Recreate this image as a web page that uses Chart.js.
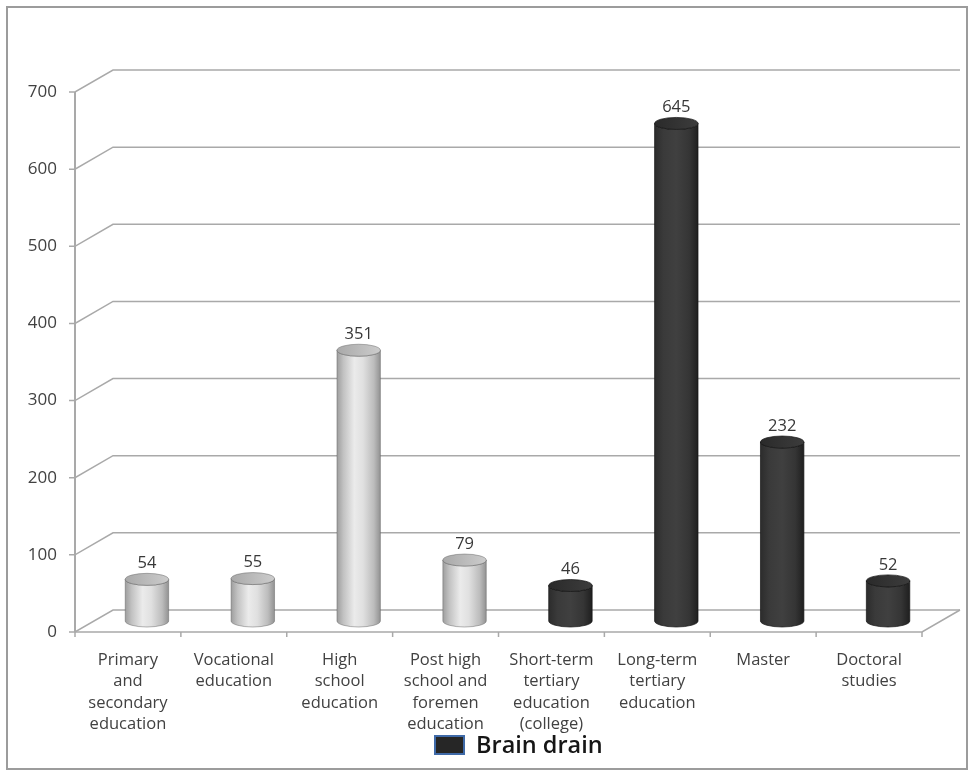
<!DOCTYPE html>
<html>
<head>
<meta charset="utf-8">
<script src="https://cdn.jsdelivr.net/npm/chart.js@4.4.0/dist/chart.umd.min.js"></script>
<style>
    html, body { margin: 0; padding: 0; background: #fff; }
    #contenedor { width: 972px; height: 776px; position: relative; }
</style>
</head>
<body>
<div id="contenedor"><canvas id="grafica"></canvas></div>
<script>
// Datos de la gráfica
const categorias = [
    ['Primary', 'and', 'secondary', 'education'],
    ['Vocational', 'education'],
    ['High', 'school', 'education'],
    ['Post high', 'school and', 'foremen', 'education'],
    ['Short-term', 'tertiary', 'education', '(college)'],
    ['Long-term', 'tertiary', 'education'],
    ['Master'],
    ['Doctoral', 'studies']
];
const valores = [54, 55, 351, 79, 46, 645, 232, 52];
const tonos = ['claro', 'claro', 'claro', 'claro', 'oscuro', 'oscuro', 'oscuro', 'oscuro'];
const ticksY = [0, 100, 200, 300, 400, 500, 600, 700];
const nombreSerie = 'Brain drain';

// Profundidad de la perspectiva 3D (desplazamiento del plano trasero)
const PROF_X = 38;
const PROF_Y = 22;
const FUENTE = '"Open Sans", sans-serif';
const COLOR_TEXTO = '#414141';
const COLOR_REJILLA = '#a9a9a9';

const paletas = {
    claro: {
        cuerpo: [[0, '#9e9e9e'], [0.15, '#c2c2c2'], [0.4, '#ebebeb'], [0.6, '#e0e0e0'], [0.85, '#bcbcbc'], [1, '#929292']],
        tapa: ['#a9a9a9', '#cccccc'],
        borde: 'rgba(90,90,90,0.45)'
    },
    oscuro: {
        cuerpo: [[0, '#2c2c2c'], [0.2, '#3a3a3a'], [0.5, '#404040'], [0.8, '#353535'], [1, '#1f1f1f']],
        tapa: ['#2a2a2a', '#3c3c3c'],
        borde: 'rgba(20,20,20,0.7)'
    }
};

function dibujarCilindro(ctx, cx, yTop, yBase, ancho, ry, paleta) {
    const rx = ancho / 2;
    const x0 = cx - rx, x1 = cx + rx;

    const grad = ctx.createLinearGradient(x0, 0, x1, 0);
    paleta.cuerpo.forEach(([p, c]) => grad.addColorStop(p, c));

    ctx.beginPath();
    ctx.moveTo(x0, yTop);
    ctx.lineTo(x0, yBase);
    ctx.ellipse(cx, yBase, rx, ry, 0, Math.PI, 0, true);
    ctx.lineTo(x1, yTop);
    ctx.ellipse(cx, yTop, rx, ry, 0, 0, Math.PI, false);
    ctx.closePath();
    ctx.fillStyle = grad;
    ctx.fill();
    ctx.strokeStyle = paleta.borde;
    ctx.lineWidth = 1;
    ctx.stroke();

    // tapa superior
    const gradTapa = ctx.createLinearGradient(x0, 0, x1, 0);
    gradTapa.addColorStop(0, paleta.tapa[0]);
    gradTapa.addColorStop(1, paleta.tapa[1]);
    ctx.beginPath();
    ctx.ellipse(cx, yTop, rx, ry, 0, 0, Math.PI * 2);
    ctx.fillStyle = gradTapa;
    ctx.fill();
    ctx.stroke();
}

const grafico3d = {
    id: 'grafico3d',
    beforeDraw(chart) {
        const ctx = chart.ctx;
        ctx.save();
        ctx.fillStyle = '#fff';
        ctx.fillRect(0, 0, chart.width, chart.height);
        // marco exterior
        ctx.strokeStyle = '#9c9c9c';
        ctx.lineWidth = 2;
        ctx.strokeRect(7, 7, 960, 762);
        ctx.restore();
    },
    beforeDatasetsDraw(chart) {
        const ctx = chart.ctx;
        const y = chart.scales.y;
        const izq = chart.chartArea.left;
        const der = chart.chartArea.right;
        const y0 = y.getPixelForValue(0);

        ctx.save();
        ctx.strokeStyle = COLOR_REJILLA;
        ctx.lineWidth = 1.5;

        // líneas de rejilla en la pared trasera con su enlace al eje
        ticksY.forEach(v => {
            const py = y.getPixelForValue(v);
            ctx.beginPath();
            ctx.moveTo(izq - 6, py);
            ctx.lineTo(izq, py);
            ctx.lineTo(izq + PROF_X, py - PROF_Y);
            ctx.lineTo(der + PROF_X, py - PROF_Y);
            ctx.stroke();
        });

        // suelo: borde frontal y lateral derecho
        ctx.beginPath();
        ctx.moveTo(izq, y0);
        ctx.lineTo(der, y0);
        ctx.lineTo(der + PROF_X, y0 - PROF_Y);
        ctx.stroke();

        // marcas de categoría
        const paso = (der - izq) / categorias.length;
        for (let k = 0; k <= categorias.length; k++) {
            const px = izq + paso * k;
            ctx.beginPath();
            ctx.moveTo(px, y0);
            ctx.lineTo(px, y0 + 5);
            ctx.stroke();
        }

        // eje vertical
        ctx.lineWidth = 2;
        ctx.beginPath();
        ctx.moveTo(izq, y.getPixelForValue(ticksY[ticksY.length - 1]));
        ctx.lineTo(izq, y0);
        ctx.stroke();
        ctx.restore();
    },
    afterDatasetsDraw(chart) {
        const ctx = chart.ctx;
        const x = chart.scales.x;
        const y = chart.scales.y;
        const paso = (chart.chartArea.right - chart.chartArea.left) / categorias.length;
        const ancho = paso * 0.41;
        const ry = 6;
        const yBase = y.getPixelForValue(0) - PROF_Y / 2;

        ctx.save();
        valores.forEach((v, i) => {
            const cx = x.getPixelForValue(i) + PROF_X / 2;
            const yTop = y.getPixelForValue(v) - PROF_Y / 2;
            dibujarCilindro(ctx, cx, yTop, yBase, ancho, ry, paletas[tonos[i]]);

            // etiqueta con el valor
            ctx.fillStyle = '#383838';
            ctx.font = '16.5px ' + FUENTE;
            ctx.textAlign = 'center';
            ctx.textBaseline = 'middle';
            ctx.fillText(String(v), cx, yTop - ry - 10);
        });

        // leyenda
        const lx = 435, ly = 736;
        ctx.fillStyle = '#262626';
        ctx.fillRect(lx, ly, 29, 18);
        ctx.strokeStyle = '#3f6aa8';
        ctx.lineWidth = 2;
        ctx.strokeRect(lx, ly, 29, 18);
        ctx.fillStyle = '#161616';
        ctx.font = '600 23.5px ' + FUENTE;
        ctx.textAlign = 'left';
        ctx.textBaseline = 'middle';
        ctx.fillText(nombreSerie, lx + 41, ly + 10);
        ctx.restore();
    }
};

const ctx = document.getElementById('grafica').getContext('2d');
new Chart(ctx, {
    type: 'bar',
    data: {
        labels: categorias,
        datasets: [{
            label: nombreSerie,
            data: valores,
            backgroundColor: 'rgba(0,0,0,0)',
            borderWidth: 0
        }]
    },
    options: {
        responsive: true,
        maintainAspectRatio: false,
        animation: false,
        layout: {
            padding: { top: 92, right: 50, bottom: 30, left: 0 }
        },
        plugins: {
            legend: { display: false },
            tooltip: { enabled: false }
        },
        scales: {
            x: {
                grid: { display: false },
                border: { display: false },
                ticks: {
                    color: COLOR_TEXTO,
                    font: { family: FUENTE, size: 16.5, lineHeight: 1.31 },
                    padding: 9,
                    maxRotation: 0,
                    autoSkip: false
                },
                afterFit(scale) { scale.height = 114; }
            },
            y: {
                min: ticksY[0],
                max: ticksY[ticksY.length - 1],
                grid: { display: false },
                border: { display: false },
                ticks: {
                    stepSize: ticksY[1] - ticksY[0],
                    color: COLOR_TEXTO,
                    font: { family: FUENTE, size: 17 },
                    padding: 10
                },
                afterFit(scale) { scale.width = 75; }
            }
        }
    },
    plugins: [grafico3d]
});
</script>
</body>
</html>
